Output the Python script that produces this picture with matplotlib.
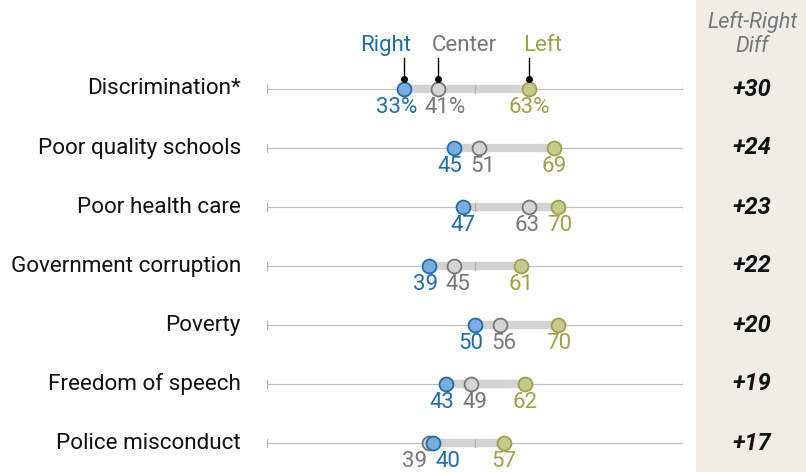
import matplotlib.pyplot as plt
from matplotlib.patches import Rectangle

plt.rcParams['font.family'] = ['Roboto', 'DejaVu Sans']

# 数据
categories = ['Discrimination*', 'Poor quality schools', 'Poor health care',
              'Government corruption', 'Poverty', 'Freedom of speech',
              'Police misconduct']
right = [33, 45, 47, 39, 50, 43, 40]
center = [41, 51, 63, 45, 56, 49, 39]
left = [63, 69, 70, 61, 70, 62, 57]
diff = ['+30', '+24', '+23', '+22', '+20', '+19', '+17']

c_right, c_right_fill = '#1f6ea8', '#7aaee0'
c_center, c_center_fill = '#777777', '#d4d4d4'
c_left, c_left_fill = '#9aa34a', '#c5cb8c'

W, H = 806, 472
fig = plt.figure(figsize=(W / 100, H / 100), dpi=100)
ax = fig.add_axes([267 / W, 0, 416 / W, 1])
ax.set_xlim(0, 100)
ax.set_ylim(6.49, -1.508)
ax.axis('off')

# 右侧差值背景
fig.patches.append(Rectangle((696 / W, 0), 1 - 696 / W, 1, transform=fig.transFigure,
                             facecolor='#eeede6', edgecolor='none', zorder=0))
fig.text(752 / W, 1 - 22 / H, 'Left-Right', ha='center', va='center', fontsize=15.5,
         style='italic', color='#777777')
fig.text(752 / W, 1 - 47 / H, 'Diff', ha='center', va='center', fontsize=15.5,
         style='italic', color='#777777')


def spread(vals, sep):
    # 标签互相推开
    pos = list(vals)
    order = sorted(range(len(vals)), key=lambda k: vals[k])
    for _ in range(5):
        for a, b in zip(order[:-1], order[1:]):
            gap = pos[b] - pos[a]
            if gap < sep:
                d = (sep - gap) / 2
                pos[a] -= d
                pos[b] += d
    return pos


for i, cat in enumerate(categories):
    ax.plot([0, 100], [i, i], color='#c0c0c0', lw=0.9, zorder=1)
    for t in (0, 50, 100):
        ax.plot([t, t], [i - 0.07, i + 0.07], color='#b0b0b0', lw=0.9, zorder=2.5)
    lo, hi = min(right[i], center[i], left[i]), max(right[i], center[i], left[i])
    ax.plot([lo, hi], [i, i], color='#d3d3d3', lw=6, solid_capstyle='butt', zorder=2)
    ax.plot(center[i], i, 'o', ms=10, mfc=c_center_fill, mec=c_center, mew=1.3, zorder=3)
    ax.plot(right[i], i, 'o', ms=10, mfc=c_right_fill, mec=c_right, mew=1.3, zorder=4)
    ax.plot(left[i], i, 'o', ms=10, mfc=c_left_fill, mec=c_left, mew=1.3, zorder=4)

    ax.text(-6.3, i, cat, ha='right', va='center', fontsize=16.2, color='#111111')
    fig.text(752 / W, 1 - (89 + 59 * i) / H, diff[i], ha='center', va='center',
             fontsize=17, weight='bold', style='italic', color='#111111')

    suf = '%' if i == 0 else ''
    sep = 11.5 if i == 0 else 7.9
    vals = [right[i], center[i], left[i]]
    pos = spread(vals, sep)
    for v, p, c in zip(vals, pos, [c_right, c_center, c_left]):
        ax.text(p, i + 0.41, f'{v}{suf}', ha='center', va='baseline', fontsize=16, color=c)

# 图例
leg = [('Right', right[0], c_right, 'right', 1.7),
       ('Center', center[0], c_center, 'left', -1.4),
       ('Left', left[0], c_left, 'left', -1.4)]
for name, v, c, ha, off in leg:
    ax.plot([v, v], [-0.52, -0.17], color='black', lw=1, zorder=5)
    ax.plot(v, -0.17, 'o', ms=4, color='black', zorder=5)
    ax.text(v + off, -0.73, name, ha=ha, va='center', fontsize=16, color=c)

fig.savefig('out.png', dpi=100)
